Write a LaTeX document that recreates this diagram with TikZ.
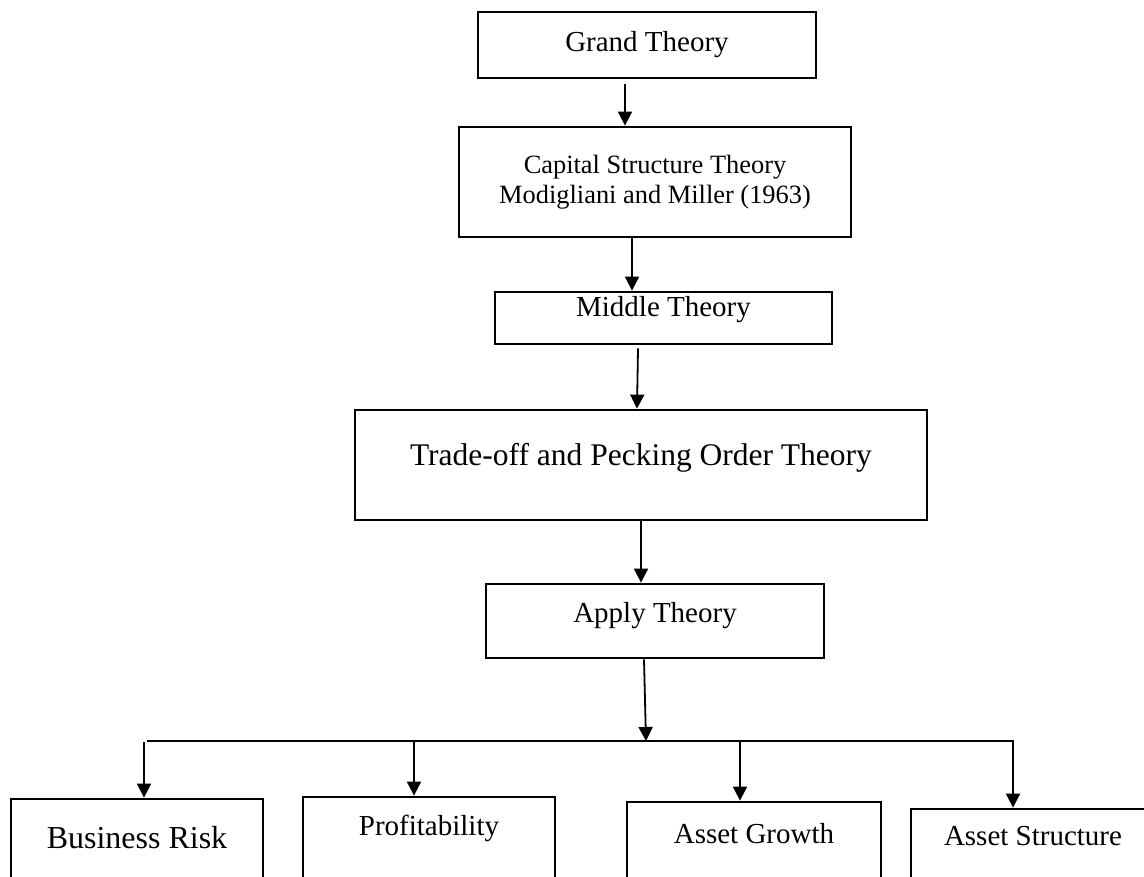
\documentclass[tikz,border=0pt]{standalone}
\usepackage{fontspec}
\setmainfont{Liberation Serif}
\usetikzlibrary{arrows.meta}

\begin{document}
\begin{tikzpicture}[x=1pt, y=-1pt,
    box/.style={draw, line width=2.8pt, inner xsep=0pt, inner ysep=0pt, anchor=base},
    arr/.style={-{Triangle[length=14pt, width=14pt]}, line width=1.8pt},
    bar/.style={line width=1.8pt}]
    \useasboundingbox (0,0) rectangle (1144,877);
    \clip (0,0) rectangle (1144,877);
    % Theory boxes
    \node[box, minimum width=338pt, text height=40pt, text depth=26pt,
          font=\fontsize{29}{34}\selectfont] (grand) at (647,52) {Grand Theory};
    \node[box, anchor=center, minimum width=392pt, minimum height=110pt, align=center,
          font=\fontsize{26.4}{30}\selectfont] (cap) at (655,182)
          {Capital Structure Theory\\Modigliani and Miller (1963)};
    \node[box, minimum width=337pt, text height=25pt, text depth=27pt,
          font=\fontsize{29}{34}\selectfont] (mid) at (663.5,317) {Middle Theory};
    \node[box, minimum width=572pt, text height=55pt, text depth=55pt,
          font=\fontsize{31.5}{36}\selectfont] (trade) at (641,465) {Trade-off and Pecking Order Theory};
    \node[box, minimum width=338pt, text height=38pt, text depth=36pt,
          font=\fontsize{29}{34}\selectfont] (apply) at (655,622) {Apply Theory};
    % Variable boxes
    \node[box, minimum width=252pt, text height=49pt, text depth=52pt,
          font=\fontsize{32}{37}\selectfont] (risk) at (137,848) {Business Risk};
    \node[box, minimum width=252pt, text height=38pt, text depth=65pt,
          font=\fontsize{29}{34}\selectfont] (prof) at (429,835) {Profitability};
    \node[box, minimum width=254pt, text height=41pt, text depth=57pt,
          font=\fontsize{29}{34}\selectfont] (growth) at (754,843) {Asset Growth};
    \node[box, minimum width=244pt, text height=36pt, text depth=55pt,
          font=\fontsize{29}{34}\selectfont] (struct) at (1033,845) {Asset Structure};
    % Branch line
    \coordinate (hub) at (646,741);
    \coordinate (barL) at (147,741);
    \coordinate (barR) at (1014,741);
    \coordinate (d1) at (144,742);
    \coordinate (d2) at (414,742);
    \coordinate (d3) at (740,742);
    \coordinate (d4) at (1013,742);
    % Arrows
    \draw[arr] ([shift={(-22,5)}]grand.south) -- ([xshift=-30]cap.north);
    \draw[arr] ([xshift=-23]cap.south) -- ([xshift=-31.5]mid.north);
    \draw[arr] ([shift={(-25.5,3)}]mid.south) -- ([xshift=-4]trade.north);
    \draw[arr] (trade.south) -- ([xshift=-14]apply.north);
    \draw[arr] ([xshift=-11]apply.south) -- (hub);
    \draw[bar] (barL) -- (barR);
    \foreach \d/\b in {d1/risk, d2/prof, d3/growth, d4/struct}
        \draw[arr] (\d) -- (\d |- \b.north);
\end{tikzpicture}
\end{document}
